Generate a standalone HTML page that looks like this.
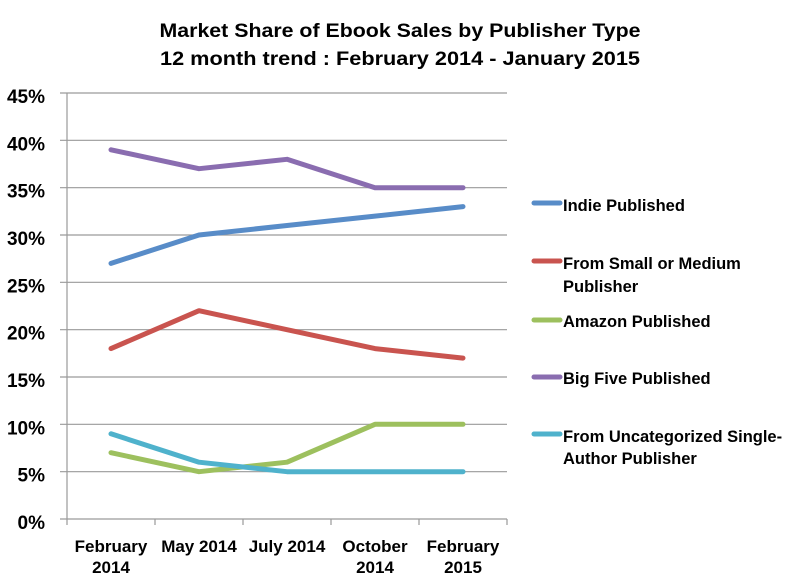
<!DOCTYPE html>
<html><head><meta charset="utf-8"><style>
html,body{margin:0;padding:0;background:#fff;}
svg{display:block;}
text{font-family:"Liberation Sans",Arial,sans-serif;font-weight:bold;fill:#000;}
</style></head><body>
<svg width="800" height="585" viewBox="0 0 800 585" xmlns="http://www.w3.org/2000/svg">
<rect width="800" height="585" fill="#fff"/>
<text x="400" y="37" font-size="19.5" text-anchor="middle" textLength="481" lengthAdjust="spacingAndGlyphs">Market Share of Ebook Sales by Publisher Type</text>
<text x="400" y="65" font-size="19.5" text-anchor="middle" textLength="480" lengthAdjust="spacingAndGlyphs">12 month trend : February 2014 - January 2015</text>
<g stroke="#9a9a9a" stroke-width="1.2">
<line x1="60" y1="93" x2="507" y2="93"/>
<line x1="60" y1="140.3" x2="507" y2="140.3"/>
<line x1="60" y1="187.7" x2="507" y2="187.7"/>
<line x1="60" y1="235" x2="507" y2="235"/>
<line x1="60" y1="282.3" x2="507" y2="282.3"/>
<line x1="60" y1="329.7" x2="507" y2="329.7"/>
<line x1="60" y1="377" x2="507" y2="377"/>
<line x1="60" y1="424.3" x2="507" y2="424.3"/>
<line x1="60" y1="471.7" x2="507" y2="471.7"/>
<line x1="60" y1="519" x2="507" y2="519"/>
<line x1="67" y1="93" x2="67" y2="525"/>
<line x1="155" y1="519" x2="155" y2="525"/>
<line x1="243" y1="519" x2="243" y2="525"/>
<line x1="331" y1="519" x2="331" y2="525"/>
<line x1="419" y1="519" x2="419" y2="525"/>
<line x1="507" y1="519" x2="507" y2="525"/>
</g>
<g font-size="19" text-anchor="end">
<text x="45" y="103">45%</text>
<text x="45" y="150.3">40%</text>
<text x="45" y="197.7">35%</text>
<text x="45" y="245">30%</text>
<text x="45" y="292.3">25%</text>
<text x="45" y="339.7">20%</text>
<text x="45" y="387">15%</text>
<text x="45" y="434.3">10%</text>
<text x="45" y="481.7">5%</text>
<text x="45" y="529">0%</text>
</g>
<g font-size="17" text-anchor="middle">
<text x="111" y="552">February</text>
<text x="111" y="573">2014</text>
<text x="199" y="552">May 2014</text>
<text x="287" y="552">July 2014</text>
<text x="375" y="552">October</text>
<text x="375" y="573">2014</text>
<text x="463" y="552">February</text>
<text x="463" y="573">2015</text>
</g>
<g fill="none" stroke-width="5" stroke-linecap="round" stroke-linejoin="round">
<polyline stroke="#8a6db0" points="111,149.8 199,168.7 287,159.3 375,187.7 463,187.7"/>
<polyline stroke="#588cc8" points="111,263.4 199,235 287,225.5 375,216.1 463,206.6"/>
<polyline stroke="#c9544f" points="111,348.6 199,310.7 287,329.7 375,348.6 463,358.1"/>
<polyline stroke="#9dc05e" points="111,452.7 199,471.7 287,462.2 375,424.3 463,424.3"/>
<polyline stroke="#4fb2cc" points="111,433.8 199,462.2 287,471.7 375,471.7 463,471.7"/>
</g>
<g stroke-width="5" stroke-linecap="round">
<line x1="534" y1="203" x2="560" y2="203" stroke="#588cc8"/>
<line x1="534" y1="261" x2="560" y2="261" stroke="#c9544f"/>
<line x1="534" y1="320" x2="560" y2="320" stroke="#9dc05e"/>
<line x1="534" y1="377" x2="560" y2="377" stroke="#8a6db0"/>
<line x1="534" y1="434" x2="560" y2="434" stroke="#4fb2cc"/>
</g>
<g font-size="16.5">
<text x="563" y="211">Indie Published</text>
<text x="563" y="269">From Small or Medium</text>
<text x="563" y="292">Publisher</text>
<text x="563" y="327">Amazon Published</text>
<text x="563" y="384">Big Five Published</text>
<text x="563" y="442">From Uncategorized Single-</text>
<text x="563" y="464">Author Publisher</text>
</g>
</svg>
</body></html>
